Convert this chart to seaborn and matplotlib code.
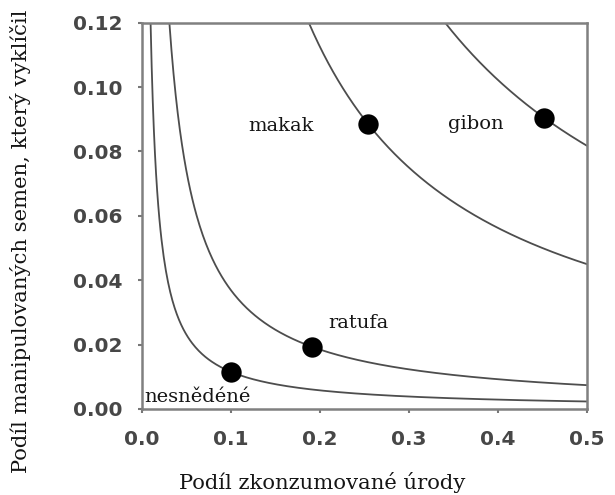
import numpy as np
import pandas as pd
import matplotlib
matplotlib.use("Agg")
import matplotlib.pyplot as plt
import seaborn as sns

# Species points: share of crop consumed vs. share of handled seeds that germinated
species = ["nesnědéné", "ratufa", "makak", "gibon"]
consumed = [0.100, 0.191, 0.254, 0.452]
germinated = [0.0115, 0.0193, 0.0886, 0.0905]

# Label anchor positions (left edge, vertical centre) in data units
label_x = [0.003, 0.209, 0.119, 0.344]
label_y = [0.0037, 0.0267, 0.088, 0.0886]

x_ticks = [0.0, 0.1, 0.2, 0.3, 0.4, 0.5]
y_ticks = [0.00, 0.02, 0.04, 0.06, 0.08, 0.10, 0.12]

sns.set_theme(style="ticks")
plt.rcParams["font.family"] = ["DejaVu Sans"]

fig = plt.figure(figsize=(6.15, 4.95), dpi=100)
ax = fig.add_axes([0.231, 0.174, 0.723, 0.780])

x_max, y_max = 0.5, 0.12

# Iso-lines of equal product (consumed x germinated) through each species point
rows = []
for name, cx, gy in zip(species, consumed, germinated):
    k = cx * gy
    xs = np.linspace(k / y_max, x_max, 400)
    rows.append(pd.DataFrame({"x": xs, "y": k / xs, "curve": name}))
curves = pd.concat(rows, ignore_index=True)

sns.lineplot(data=curves, x="x", y="y", units="curve", estimator=None,
             color="#4d4d4d", linewidth=1.3, ax=ax, legend=False, sort=False)

pts = pd.DataFrame({"x": consumed, "y": germinated})
sns.scatterplot(data=pts, x="x", y="y", s=215, color="black",
                edgecolor="black", linewidth=0, ax=ax, zorder=5)

serif = ["DejaVu Serif"]
for name, lx, ly in zip(species, label_x, label_y):
    ax.text(lx, ly, name, ha="left", va="center", fontsize=14,
            family=serif, color="#151515")

ax.set_xlim(0, x_max)
ax.set_ylim(0, y_max)
ax.set_xticks(x_ticks)
ax.set_yticks(y_ticks)
ax.set_xticklabels([f"{v:.1f}" for v in x_ticks])
ax.set_yticklabels([f"{v:.2f}" for v in y_ticks])
ax.tick_params(axis="both", direction="out", length=3, width=1.5,
               color="#777777", labelsize=14.5, labelcolor="#474747")
ax.tick_params(axis="y", pad=11)
ax.tick_params(axis="x", pad=12)
for lab in ax.get_xticklabels() + ax.get_yticklabels():
    lab.set_fontweight("bold")

for side in ["left", "right", "top", "bottom"]:
    ax.spines[side].set_visible(True)
    ax.spines[side].set_color("#808080")
    ax.spines[side].set_linewidth(1.8)

ax.set_xlabel("Podíl zkonzumované úrody", family=serif, fontsize=15.2,
              color="#151515")
ax.xaxis.set_label_coords(0.404, -0.163)
ax.set_ylabel("Podíl manipulovaných semen, který vyklíčil", family=serif,
              fontsize=15.2, color="#151515")
ax.yaxis.set_label_coords(-0.25, 0.433)

fig.savefig("out.png", dpi=100, facecolor="white")
